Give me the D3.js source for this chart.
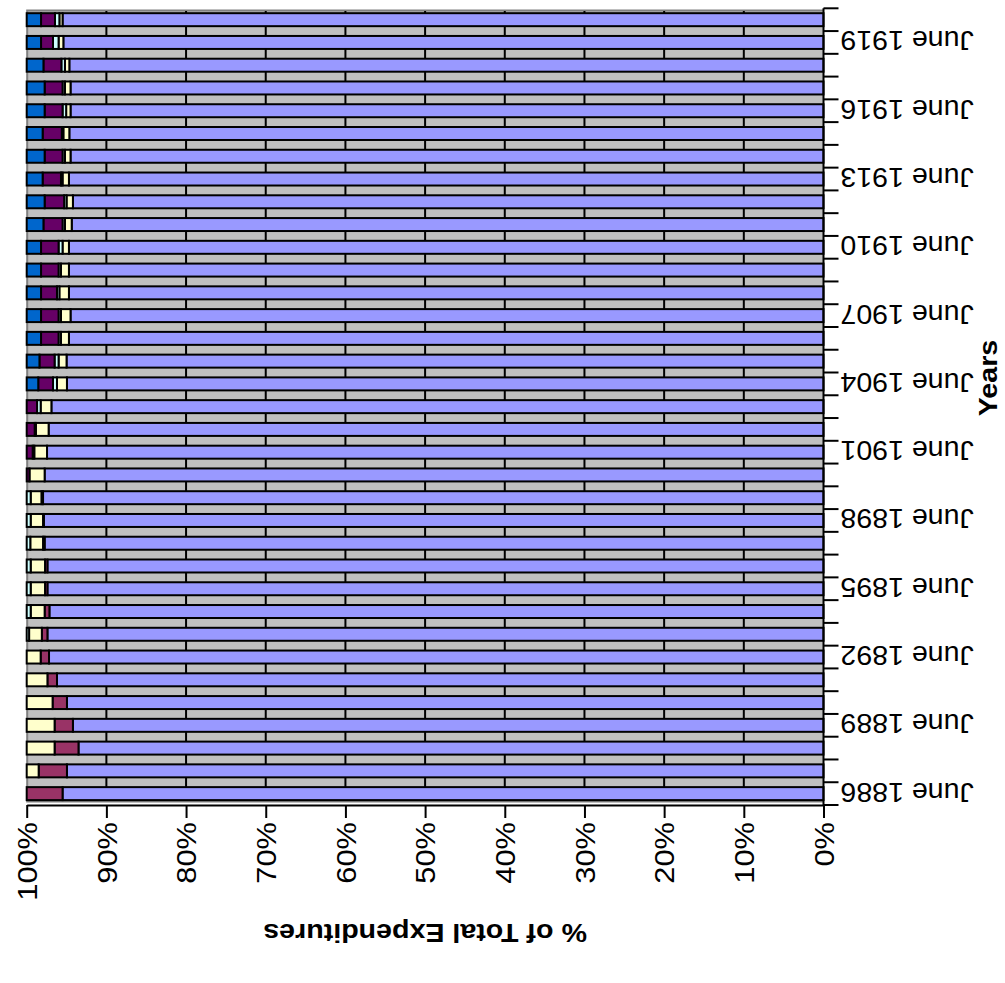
<!DOCTYPE html>
<html>
<head>
<meta charset="utf-8">
<script src="https://cdn.jsdelivr.net/npm/d3@7"></script>
<style>
    body { margin: 0; background: #fff; }
    text { font-family: "Liberation Sans", Arial, sans-serif; fill: #000; }
</style>
</head>
<body>
<div id="div"></div>
<script>
// categories, bottom (1886) to top (1920)
var years = ['June 1886', 'June 1887', 'June 1888', 'June 1889', 'June 1890', 'June 1891', 'June 1892',
    'June 1893', 'June 1894', 'June 1895', 'June 1896', 'June 1897', 'June 1898', 'June 1899',
    'June 1900', 'June 1901', 'June 1902', 'June 1903', 'June 1904', 'June 1905', 'June 1906',
    'June 1907', 'June 1908', 'June 1909', 'June 1910', 'June 1911', 'June 1912', 'June 1913',
    'June 1914', 'June 1915', 'June 1916', 'June 1917', 'June 1918', 'June 1919', 'June 1920'];

// share of total expenditures (%), stacked from 0% outward
var periwinkle = [95.5, 94.95, 93.5, 94.2, 94.95, 96.2, 97.2, 97.4, 97.15, 97.4, 97.4, 97.75, 97.85, 97.95,
    97.75, 97.45, 97.25, 96.9, 94.95, 95.0, 94.7, 94.5, 94.7, 94.7, 94.7, 94.35, 94.2, 94.7,
    94.5, 94.65, 94.5, 94.5, 94.65, 95.4, 95.5];
var plum = [4.5, 3.55, 3.0, 2.3, 1.8, 1.2, 1.05, 0.7, 0.6, 0.3, 0.3, 0.2, 0.1, 0.2,
    0, 0, 0, 0, 0, 0, 0, 0, 0, 0, 0, 0, 0, 0, 0, 0, 0, 0, 0, 0, 0];
var ivory = [0, 1.5, 3.5, 3.5, 3.25, 2.6, 1.75, 1.6, 1.75, 1.8, 1.8, 1.6, 1.55, 1.35,
    1.9, 1.6, 1.6, 1.35, 1.25, 1.0, 1.0, 1.2, 1.2, 1.0, 0.8, 0.85, 0.8, 0.8,
    0.7, 0.75, 0.55, 0.7, 0.55, 0.6, 0.4];
var cyan = [0, 0, 0, 0, 0, 0, 0, 0.3, 0.5, 0.5, 0.5, 0.45, 0.5, 0.5,
    0, 0.2, 0.15, 0.45, 0.5, 0.5, 0.3, 0.3, 0.3, 0.3, 0.5, 0.3, 0.3, 0.2,
    0.3, 0.2, 0.45, 0.3, 0.45, 0.7, 0.55];
var darkPurple = [0, 0, 0, 0, 0, 0, 0, 0, 0, 0, 0, 0, 0, 0,
    0.35, 0.75, 1.0, 1.3, 1.85, 1.9, 2.2, 2.2, 2.0, 2.2, 2.2, 2.4, 2.45, 2.3,
    2.25, 2.4, 2.25, 2.25, 2.25, 1.5, 1.75];
var blue = [0, 0, 0, 0, 0, 0, 0, 0, 0, 0, 0, 0, 0, 0,
    0, 0, 0, 0, 1.45, 1.6, 1.8, 1.8, 1.8, 1.8, 1.8, 2.1, 2.25, 2.0,
    2.25, 2.0, 2.25, 2.25, 2.1, 1.8, 1.8];

var seriesKeys = ['periwinkle', 'plum', 'ivory', 'cyan', 'darkPurple', 'blue'];
var seriesColors = ['#9999ff', '#993366', '#ffffcc', '#ccffff', '#660066', '#0066cc'];

var rows = years.map(function (y, i) {
    return {
        year: y, periwinkle: periwinkle[i], plum: plum[i], ivory: ivory[i],
        cyan: cyan[i], darkPurple: darkPurple[i], blue: blue[i]
    };
});

var width = 1005, height = 983;
// note: window.top is read-only, so the plot edges get their own names
var plotLeft = 26.7, plotRight = 823.5, plotTop = 8.3, plotBottom = 805;
var textStretch = 1.1;

var svg = d3.select('#div').append('svg')
    .attr('width', width)
    .attr('height', height);

var x = d3.scaleLinear().domain([0, 1]).range([plotRight, plotLeft]);
var y = d3.scaleBand().domain(years).range([plotBottom, plotTop])
    .paddingInner(0.43).paddingOuter(0.215);

var stacked = d3.stack().keys(seriesKeys).offset(d3.stackOffsetExpand)(rows);

// plot area
svg.append('rect')
    .attr('x', plotLeft)
    .attr('y', 10)
    .attr('width', plotRight - plotLeft)
    .attr('height', 792)
    .style('fill', '#c0c0c0');

svg.append('path')
    .attr('d', 'M' + plotRight + ',10.5H' + (plotLeft + 0.5) + 'V801.5H' + plotRight)
    .style('fill', 'none')
    .style('stroke', '#808080')
    .style('stroke-width', 2);

// gridlines
svg.append('g').selectAll('line')
    .data(d3.range(1, 10).map(function (d) { return d / 10; }))
    .enter()
    .append('line')
    .attr('x1', function (d) { return x(d); })
    .attr('x2', function (d) { return x(d); })
    .attr('y1', 11)
    .attr('y2', 801)
    .style('stroke', '#000')
    .style('stroke-width', 2);

// bars
var layer = svg.append('g').selectAll('g')
    .data(stacked)
    .enter()
    .append('g')
    .style('fill', function (d, i) { return seriesColors[i]; });

layer.selectAll('rect')
    .data(function (d) { return d.filter(function (p) { return p[1] - p[0] > 0; }); })
    .enter()
    .append('rect')
    .attr('x', function (d) { return x(d[1]); })
    .attr('y', function (d) { return y(d.data.year); })
    .attr('width', function (d) { return x(d[0]) - x(d[1]); })
    .attr('height', y.bandwidth())
    .style('stroke', '#000')
    .style('stroke-width', 2);

// value axis (bottom)
var xAxis = svg.append('g')
    .attr('transform', 'translate(0,' + plotBottom + ')')
    .call(d3.axisBottom(x).ticks(10).tickSize(13).tickSizeOuter(0).tickFormat(d3.format('.0%')));

xAxis.select('.domain').style('stroke', '#000').style('stroke-width', 2);
xAxis.selectAll('.tick line').style('stroke', '#000').style('stroke-width', 2);
xAxis.selectAll('.tick text')
    .attr('x', 0)
    .attr('y', 0)
    .attr('dy', '0.35em')
    .attr('text-anchor', 'end')
    .attr('transform', 'translate(0,17) rotate(-90) scale(' + textStretch + ',1)')
    .style('font-size', '28px')
    .style('font-family', '"Liberation Sans", Arial, sans-serif');

// category axis (right)
var step = y.step();
var gap = step * y.paddingInner() / 2;
var catAxis = svg.append('g');

catAxis.append('line')
    .attr('x1', plotRight)
    .attr('x2', plotRight)
    .attr('y1', plotTop)
    .attr('y2', plotBottom)
    .style('stroke', '#000')
    .style('stroke-width', 2);

var boundaries = years.map(function (d) { return y(d) + y.bandwidth() + gap; });
boundaries.push(y(years[years.length - 1]) - gap);

catAxis.selectAll('.cat-tick')
    .data(boundaries)
    .enter()
    .append('line')
    .attr('class', 'cat-tick')
    .attr('x1', plotRight)
    .attr('x2', plotRight + 15)
    .attr('y1', function (d) { return d; })
    .attr('y2', function (d) { return d; })
    .style('stroke', '#000')
    .style('stroke-width', 2);

catAxis.selectAll('text')
    .data(years.filter(function (d, i) { return i % 3 === 0; }))
    .enter()
    .append('text')
    .attr('dy', '0.35em')
    .attr('text-anchor', 'end')
    .attr('transform', function (d) {
        return 'translate(' + (plotRight + 17) + ',' + (y(d) + y.bandwidth() / 2 - 1) + ') rotate(180)';
    })
    .style('font-size', '28.5px')
    .text(function (d) { return d; });

// axis titles
svg.append('text')
    .attr('dy', '0.35em')
    .attr('text-anchor', 'middle')
    .attr('transform', 'translate(' + ((plotLeft + plotRight) / 2) + ',933) rotate(180) scale(' + textStretch + ',1)')
    .style('font-size', '26px')
    .style('font-weight', 'bold')
    .text('% of Total Expenditures');

svg.append('text')
    .attr('dy', '0.35em')
    .attr('text-anchor', 'middle')
    .attr('transform', 'translate(988,378) rotate(-90) scale(' + textStretch + ',1)')
    .style('font-size', '26px')
    .style('font-weight', 'bold')
    .text('Years');
</script>
</body>
</html>
